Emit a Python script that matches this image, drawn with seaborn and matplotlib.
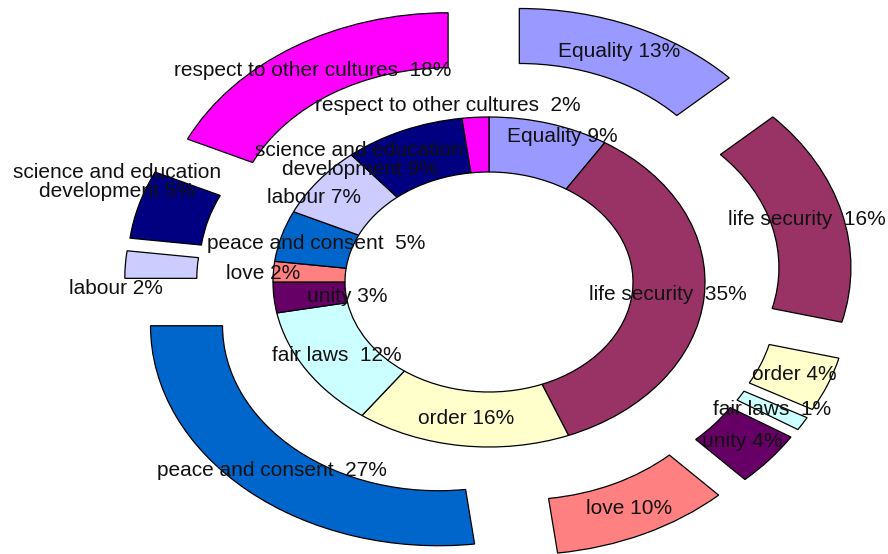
import numpy as np
import matplotlib
matplotlib.use("Agg")
import matplotlib.pyplot as plt
import seaborn as sns

# categories in drawing order (clockwise from 12 o'clock)
categories = ["Equality", "life security ", "order", "fair laws ", "unity", "love",
              "peace and consent ", "labour", "science and education\ndevelopment",
              "respect to other cultures "]
inner_values = [9, 35, 16, 12, 3, 2, 5, 7, 9, 2]
outer_values = [13, 16, 4, 1, 4, 10, 27, 2, 5, 18]
colors = ["#9999FF", "#993366", "#FFFFCC", "#CCFFFF", "#660066", "#FF8080",
          "#0066CC", "#CCCCFF", "#000080", "#FF00FF"]

# label nudges in pixels (dx, dy with y pointing down), like hand-moved labels
inner_nudge = {0: (23, -13), 4: (37, 2), 5: (-46, 0), 7: (-33, 0), 8: (-58, 4), 9: (-30, -39)}
outer_nudge = {7: (-45, 22), 8: (-57, -30)}

sns.set_style("white")
plt.rcParams['font.family'] = ['Liberation Sans', 'DejaVu Sans']
palette = sns.color_palette(colors)

# pixel scale of one data unit (chart is stretched horizontally)
px_x, px_y = 288.0, 220.0
cx, cy = 489.0, 282.0
explode = 0.265

fig = plt.figure(figsize=(8.88, 5.54), dpi=100)
ax = fig.add_axes([0, 0, 1, 1])

edge = dict(edgecolor="black", linewidth=0.9)
ax.pie(inner_values, radius=0.75, colors=palette, startangle=90, counterclock=False,
       wedgeprops=dict(width=0.25, **edge))
ax.pie(outer_values, radius=1.0, colors=palette, startangle=90, counterclock=False,
       explode=[explode] * len(outer_values), wedgeprops=dict(width=0.25, **edge))


def add_labels(values, r, nudge):
    total = sum(values)
    start = 0.0
    for i, v in enumerate(values):
        mid = np.deg2rad((start + v / 2) / total * 360)
        start += v
        x = r * np.sin(mid)
        y = r * np.cos(mid)
        dx, dy = nudge.get(i, (0, 0))
        x += dx / px_x
        y -= dy / px_y
        ax.text(x, y, f"{categories[i]} {v}%", ha="center", va="center",
                fontsize=15, color="#111111", multialignment="center",
                linespacing=1.0)


add_labels(inner_values, 0.625, inner_nudge)
add_labels(outer_values, 0.875 + explode, outer_nudge)

ax.set_aspect("auto")
ax.set_xlim(-cx / px_x, (888 - cx) / px_x)
ax.set_ylim(-(554 - cy) / px_y, cy / px_y)
ax.axis("off")

fig.savefig("out.png", dpi=100)
